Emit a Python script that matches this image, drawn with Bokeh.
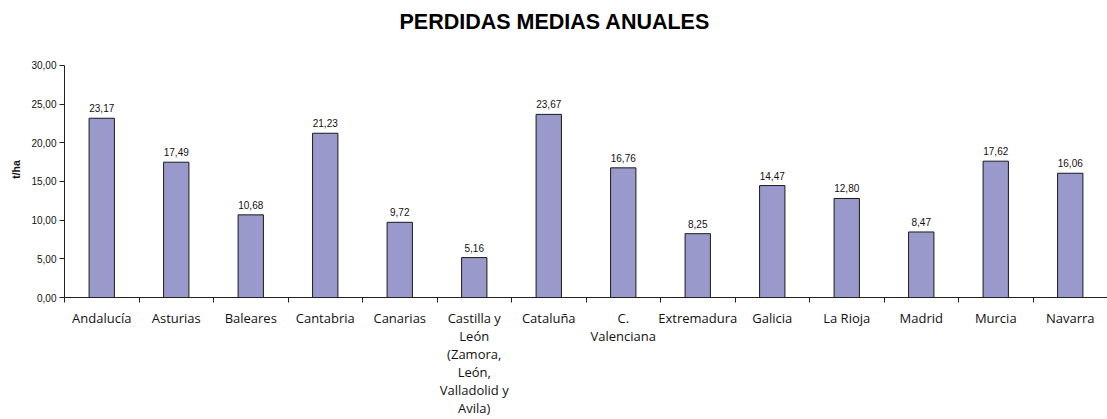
from bokeh.plotting import figure
from bokeh.models import FixedTicker, Range1d, ColumnDataSource
from bokeh.embed import file_html
from bokeh.resources import INLINE
from bokeh.core.properties import value

regions = ["Andalucía", "Asturias", "Baleares", "Cantabria", "Canarias",
           "Castilla y\nLeón\n(Zamora,\nLeón,\nValladolid y\nAvila)",
           "Cataluña", "C.\nValenciana", "Extremadura", "Galicia",
           "La Rioja", "Madrid", "Murcia", "Navarra"]
losses = [23.17, 17.49, 10.68, 21.23, 9.72, 5.16, 23.67, 16.76, 8.25,
          14.47, 12.80, 8.47, 17.62, 16.06]
y_ticks = [0, 5, 10, 15, 20, 25, 30]
y_tick_labels = ["0,00", "5,00", "10,00", "15,00", "20,00", "25,00", "30,00"]

n = len(regions)
xs = [i + 0.5 for i in range(n)]
labels = [f"{v:.2f}".replace(".", ",") for v in losses]
src = ColumnDataSource(dict(x=xs, top=losses, lab=labels))

# layout (pixels): frame top, position of the 30 tick, axis baseline
frame_top, top_tick, base = 41, 65, 298
y_end = y_ticks[-1] * (base - frame_top) / (base - top_tick)

p = figure(width=1107, height=419, output_backend="svg", toolbar_location=None,
           x_range=Range1d(0, n), y_range=Range1d(0, y_end),
           min_border_left=64, min_border_right=0, min_border_top=frame_top,
           min_border_bottom=419 - base)
p.outline_line_color = None
p.grid.visible = False
p.background_fill_color = "white"
p.border_fill_color = "white"

p.vbar(x="x", top="top", width=0.34, bottom=0, source=src,
       fill_color="#9999CC", line_color="#1a1a1a", line_width=1)
p.text(x="x", y="top", text="lab", source=src, text_align="center",
       text_baseline="bottom", y_offset=-6, text_font=value("Liberation Sans"),
       text_font_size="10px", text_color="#111111")

# x axis
xa = p.xaxis[0]
xa.ticker = FixedTicker(ticks=xs, minor_ticks=list(range(n + 1)))
xa.major_label_overrides = {x: r for x, r in zip(xs, regions)}
xa.major_tick_out = 0
xa.major_tick_in = 0
xa.minor_tick_out = 5
xa.minor_tick_in = 0
xa.minor_tick_line_color = "#222222"
xa.axis_line_color = "#222222"
xa.major_label_standoff = 6
xa.major_label_text_font = "Open Sans"
xa.major_label_text_font_size = "13px"
xa.major_label_text_color = "#111111"
xa.major_label_text_line_height = 1.0
xa.major_label_orientation = "horizontal"

# y axis
ya = p.yaxis[0]
ya.bounds = (y_ticks[0], y_ticks[-1])
ya.ticker = FixedTicker(ticks=y_ticks, minor_ticks=[])
ya.major_label_overrides = {t: l for t, l in zip(y_ticks, y_tick_labels)}
ya.major_tick_out = 5
ya.major_tick_in = 0
ya.major_tick_line_color = "#222222"
ya.axis_line_color = "#222222"
ya.major_label_standoff = 3
ya.major_label_text_font = "Liberation Sans"
ya.major_label_text_font_size = "10px"
ya.major_label_text_color = "#111111"
ya.axis_label = "t/ha"
ya.axis_label_text_font = "Liberation Sans"
ya.axis_label_text_font_style = "bold"
ya.axis_label_text_font_size = "10.5px"
ya.axis_label_text_color = "#111111"
ya.axis_label_standoff = 6

p.title.text = "PERDIDAS MEDIAS ANUALES"
p.title.text_font = "Liberation Sans"
p.title.text_font_style = "bold"
p.title.text_font_size = "21.5px"
p.title.text_color = "#000000"
p.title.align = "left"
p.title.offset = 335
p.title.standoff = 15

open("out.html", "w").write(file_html(p, INLINE))
